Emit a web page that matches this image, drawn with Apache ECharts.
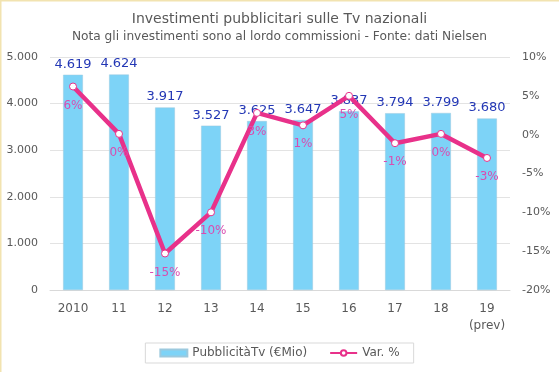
<!DOCTYPE html>
<html><head><meta charset="utf-8">
<script src="https://cdn.jsdelivr.net/npm/echarts@6/dist/echarts.min.js"></script>
<style>html,body{margin:0;padding:0;background:#fff}#c{width:559px;height:372px}</style>
</head><body><div id="c"></div>
<script>
var categories = ['2010','11','12','13','14','15','16','17','18','19\n(prev)'];
var spending = [4619, 4624, 3917, 3527, 3625, 3647, 3837, 3794, 3799, 3680];
var changePct = [6.2, 0.1, -15.3, -10.0, 2.8, 1.2, 5.0, -1.1, 0.1, -3.0];
var leftTicks = [0, 1000, 2000, 3000, 4000, 5000];
var rightTicks = [-20, -15, -10, -5, 0, 5, 10];

var font = 'DejaVu Sans';
function fmtThousands(v){ return v === 0 ? '0' : String(v).replace(/\B(?=(\d{3})+(?!\d))/g, '.'); }

var chart = echarts.init(document.getElementById('c'), null, {renderer:'canvas'});
chart.setOption({
  animation: false,
  textStyle: {fontFamily: font},
  title: [
    {text: 'Investimenti pubblicitari sulle Tv nazionali', left: 'center', top: 7,
     textStyle: {fontFamily: font, fontSize: 14, fontWeight: 'normal', color: '#595959'}},
    {text: 'Nota gli investimenti sono al lordo commissioni - Fonte: dati Nielsen', left: 'center', top: 26,
     textStyle: {fontFamily: font, fontSize: 12.2, fontWeight: 'normal', color: '#595959'}}
  ],
  graphic: [
    {type: 'rect', shape: {x: 0.5, y: 0.5, width: 600, height: 600}, style: {fill: 'none', stroke: '#F2E3B0', lineWidth: 2}, silent: true}
  ],
  grid: {left: 50, right: 49, top: 57, bottom: 82},
  legend: {
    bottom: 9, left: 'center', itemGap: 22,
    borderColor: '#D9D9D9', borderWidth: 1, padding: [4, 14, 4, 14],
    textStyle: {fontFamily: font, fontSize: 12, color: '#595959'},
    data: [
      {name: 'PubblicitàTv (€Mio)', icon: 'rect', itemStyle: {color: '#7DD3F7'}},
      {name: 'Var. %'}
    ],
    itemWidth: 27, itemHeight: 7
  },
  xAxis: {
    type: 'category', data: categories,
    axisLine: {lineStyle: {color: '#D9D9D9'}},
    axisTick: {show: false},
    axisLabel: {interval: 0, fontFamily: font, fontSize: 12, color: '#595959', margin: 10, lineHeight: 17}
  },
  yAxis: [
    {type: 'value', min: 0, max: 5000, interval: 1000,
     axisLabel: {fontFamily: font, fontSize: 11, color: '#595959', margin: 12, formatter: fmtThousands},
     splitLine: {lineStyle: {color: '#E3E3E3'}}, axisLine: {show: false}, axisTick: {show: false}},
    {type: 'value', min: -20, max: 10, interval: 5,
     axisLabel: {fontFamily: font, fontSize: 11, color: '#595959', margin: 12, formatter: function(v){return v + '%';}},
     splitLine: {show: false}, axisLine: {show: false}, axisTick: {show: false}}
  ],
  series: [
    {name: 'PubblicitàTv (€Mio)', type: 'bar', data: spending, barWidth: '43%',
     itemStyle: {color: '#7DD3F7', borderColor: '#9CC9DE', borderWidth: 0.5},
     label: {show: true, position: 'top', distance: 4, fontFamily: font, fontSize: 13, color: '#2337B5',
             formatter: function(p){return fmtThousands(p.value);}},
     z: 2},
    {name: 'Var. %', type: 'line', yAxisIndex: 1, data: changePct,
     lineStyle: {color: '#E8318A', width: 4.5},
     itemStyle: {color: '#FFFFFF', borderColor: '#E8318A', borderWidth: 1},
     symbol: 'circle', symbolSize: 7,
     label: {show: true, position: 'bottom', distance: 9, fontFamily: font, fontSize: 12, color: '#D94DB0',
             formatter: function(p){return Math.round(p.value) + '%';}},
     z: 3}
  ]
});
</script></body></html>
